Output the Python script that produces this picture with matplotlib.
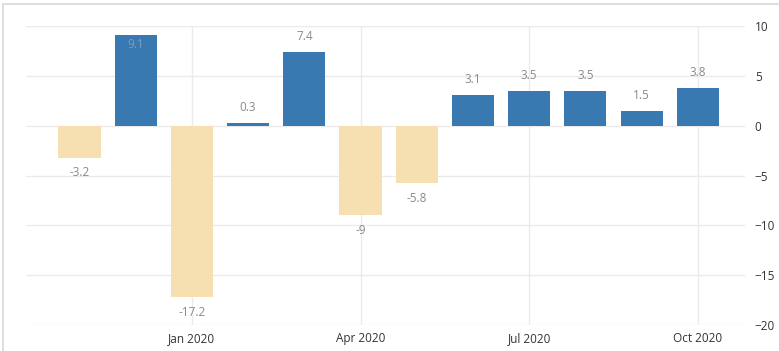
import matplotlib
matplotlib.use("Agg")
import matplotlib.pyplot as plt
from matplotlib.patches import Rectangle

plt.rcParams["font.family"] = ["Open Sans", "DejaVu Sans"]

months = ["Nov 2019", "Dec 2019", "Jan 2020", "Feb 2020", "Mar 2020", "Apr 2020",
          "May 2020", "Jun 2020", "Jul 2020", "Aug 2020", "Sep 2020", "Oct 2020"]
values = [-3.2, 9.1, -17.2, 0.3, 7.4, -9, -5.8, 3.1, 3.5, 3.5, 1.5, 3.8]
tick_months = ["Jan 2020", "Apr 2020", "Jul 2020", "Oct 2020"]
y_ticks = [10, 5, 0, -5, -10, -15, -20]

POS = "#3779b0"
NEG = "#f6dfb1"

fig = plt.figure(figsize=(7.79, 3.51), dpi=100)
ax = fig.add_axes([0.0334, 0.074, 0.923, 0.852])

x = list(range(len(values)))
colors = [POS if v >= 0 else NEG for v in values]
ax.bar(x, values, width=0.75, color=colors, zorder=2)

ymin, ymax = -20, 10
for xi, v in zip(x, values):
    lab = f"{v:g}"
    col = "#8a8a8a"
    if v >= 0:
        ly = v + 1.5
        if ly > ymax - 0.5:
            # no room above: label drawn inside the bar
            ly = v - 1.0
            col = "#7f9cb8"
    else:
        ly = v - 1.5
    ax.text(xi, ly, lab, ha="center", va="center", fontsize=8.5, color=col, zorder=3)

ax.set_ylim(ymin, ymax)
ax.set_xlim(-0.95, len(values) - 0.16)
ax.set_yticks(y_ticks)
ax.yaxis.tick_right()
ax.tick_params(axis="y", length=0, labelsize=8.5, labelcolor="#333333", pad=7)

tpos = [months.index(m) for m in tick_months]
ax.set_xticks(tpos)
ax.set_xticklabels(tick_months)
ax.tick_params(axis="x", length=0, labelsize=8.5, labelcolor="#333333", pad=5)

ax.grid(True, color="#ebebeb", linewidth=1, zorder=0)
for s in ax.spines.values():
    s.set_visible(False)

# outer frame lines of the screenshot
fig.patches.append(Rectangle((0.004, -0.05), 1.2, 1.04, transform=fig.transFigure,
                             fill=False, edgecolor="#d8d8d8", linewidth=1.2))

fig.savefig("out.png", dpi=100)
